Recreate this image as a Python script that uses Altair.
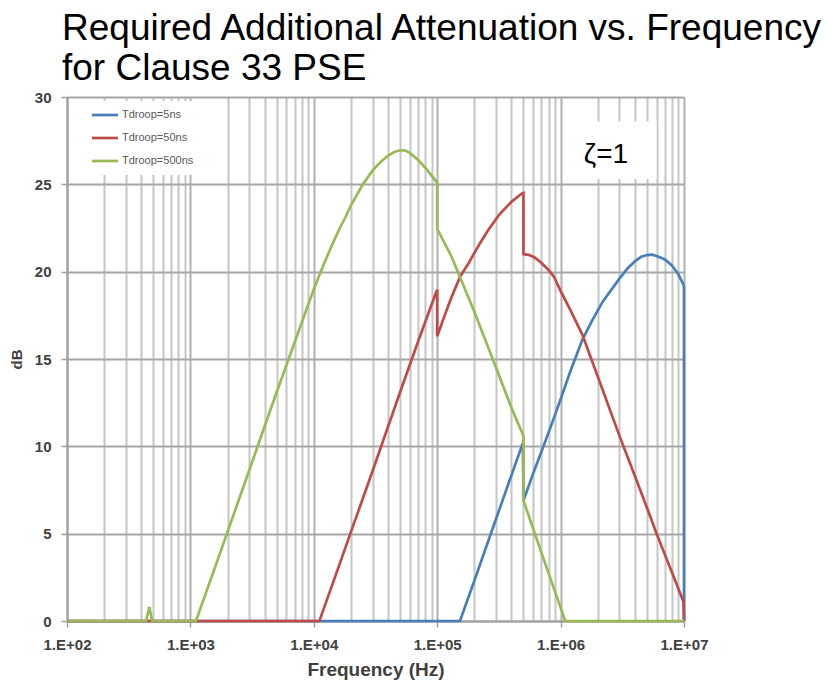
import altair as alt
import pandas as pd

# ---------------- data ----------------
series_names = ["Tdroop=5ns", "Tdroop=50ns", "Tdroop=500ns"]
series_colors = ["#4A7EBB", "#BE4B48", "#98B954"]

blue_freq = [100, 153000, 200000, 300000, 400000, 495000, 500000, 600000, 700000,
             850000, 1000000, 1200000, 1500000, 1800000, 2200000, 2600000, 3000000,
             3500000, 4000000, 4500000, 5000000, 5500000, 6000000, 7000000, 8000000,
             9000000, 9900000, 10000000, 10000000]
blue_db = [0, 0, 2.3, 5.85, 8.35, 10.2, 6.9, 8.45, 9.7,
           11.3, 12.7, 14.3, 16.1, 17.2, 18.3, 19.0, 19.6,
           20.2, 20.6, 20.85, 20.95, 20.97, 20.9, 20.7, 20.35,
           19.85, 19.25, 19.1, 0]

red_freq = [100, 11100, 15000, 20000, 30000, 50000, 70000, 99000, 100000, 100000,
            115000, 130000, 153000, 180000, 221000, 260000, 321000, 400000, 480000,
            500000, 500000, 560000, 620000, 700000, 800000, 885000, 1000000,
            1200000, 1500000, 2000000, 3000000, 4000000, 5000000, 6000000,
            7000000, 8500000, 9900000, 10000000]
red_db = [0, 0, 2.6, 5.1, 8.6, 13.1, 16.0, 18.9, 18.9, 16.3,
          17.5, 18.5, 19.7, 20.5, 21.6, 22.4, 23.3, 24.0, 24.45,
          24.5, 21.0, 20.95, 20.8, 20.5, 20.1, 19.7, 18.9,
          17.8, 16.4, 14.0, 10.6, 8.3, 6.5, 5.0,
          3.8, 2.3, 1.1, 0]

green_freq = [100, 437, 465, 490, 1110, 2000, 5000, 10000, 12000, 14000, 16000,
              18000, 20000, 25000, 30000, 35000, 40000, 45000, 50000, 55000, 60000,
              70000, 80000, 90000, 100000, 100000, 130000, 200000, 300000, 400000,
              500000, 500000, 700000, 1090000, 10000000]
green_db = [0, 0, 0.8, 0, 0, 5.1, 13.1, 19.0, 20.4, 21.5, 22.4,
            23.1, 23.8, 25.0, 25.8, 26.3, 26.65, 26.85, 26.95, 26.93, 26.8,
            26.4, 25.95, 25.5, 25.1, 22.45, 20.9, 17.7, 14.5, 12.2,
            10.6, 6.9, 3.9, 0, 0]

decades = [100, 1000, 10000, 100000, 1000000, 10000000]
decade_labels = ["1.E+02", "1.E+03", "1.E+04", "1.E+05", "1.E+06", "1.E+07"]
minor_mult = [2, 3, 4, 5, 6, 7, 8, 9]
y_ticks = [0, 5, 10, 15, 20, 25, 30]

zeta_text = ["ζ=1"]
zeta_x = [2330000]
zeta_y = [26.2]
box_x1 = [1090000]
box_x2 = [6000000]
box_y1 = [25.3]
box_y2 = [28.6]

# ---------------- tables ----------------
rows = []
for name, fr, db in zip(series_names, [blue_freq, red_freq, green_freq],
                        [blue_db, red_db, green_db]):
    for i, (f, d) in enumerate(zip(fr, db)):
        rows.append({"series": name, "f": f, "dB": d, "idx": i})
df = pd.DataFrame(rows)

note_df = pd.DataFrame({"t": zeta_text, "tx": zeta_x, "ty": zeta_y})
box_df = pd.DataFrame({"x1": box_x1, "x2": box_x2, "y1": box_y1, "y2": box_y2})

x_values = sorted(decades + [m * d for d in decades[:-1] for m in minor_mult])
is_decade = f"indexof({decades}, datum.value) >= 0"

x_axis = alt.Axis(
    title="Frequency (Hz)",
    values=x_values,
    labelExpr=f"{is_decade} ? {decade_labels}[indexof({decades}, datum.value)] : ''",
    labelOverlap=False,
    labelFlush=False,
    labelFont="Liberation Sans",
    labelFontSize=15,
    labelFontWeight="bold",
    labelColor="#404040",
    labelPadding=10,
    tickSize=6,
    tickColor="#a0a0a0",
    tickWidth=1.5,
    tickOpacity={"condition": {"test": is_decade, "value": 1}, "value": 0},
    domainColor="#a0a0a0",
    domainWidth=2,
    grid=True,
    gridColor={"condition": {"test": is_decade, "value": "#b0b0b0"}, "value": "#c6c6c6"},
    gridWidth=2,
    titleFont="Liberation Sans",
    titleFontSize=19,
    titleFontWeight="bold",
    titleColor="#404040",
    titlePadding=8,
)

y_axis = alt.Axis(
    title="dB",
    values=y_ticks,
    labelFlush=False,
    labelFont="Liberation Sans",
    labelFontSize=15,
    labelFontWeight="bold",
    labelColor="#404040",
    labelPadding=10,
    tickSize=6,
    tickColor="#a0a0a0",
    tickWidth=1.5,
    domainColor="#a0a0a0",
    domainWidth=2,
    grid=True,
    gridColor="#a6a6a6",
    gridWidth=2,
    titleFont="Liberation Sans",
    titleFontSize=15,
    titleFontWeight="bold",
    titleColor="#404040",
    titlePadding=10,
)

x_scale = alt.Scale(type="log", domain=[100, 10000000], nice=False)
y_scale = alt.Scale(domain=[0, 30], nice=False)

legend = alt.Legend(
    title=None,
    orient="none",
    legendX=24,
    legendY=4,
    fillColor="white",
    padding=8,
    symbolType="M-3,0H3",
    symbolSize=76,
    symbolStrokeWidth=2.7,
    labelFont="Liberation Sans",
    labelFontSize=11,
    labelColor="#595959",
    labelOffset=11,
    rowPadding=11,
)

color = alt.Color("series:N", scale=alt.Scale(domain=series_names, range=series_colors),
                  legend=legend)

layers = []
for name in series_names:
    layers.append(
        alt.Chart(df).transform_filter(alt.datum.series == name).mark_line(
            strokeWidth=2.7
        ).encode(
            x=alt.X("f:Q", scale=x_scale, axis=x_axis),
            y=alt.Y("dB:Q", scale=y_scale, axis=y_axis),
            color=color,
            order=alt.Order("idx:Q"),
        )
    )

box = alt.Chart(box_df).mark_rect(color="white").encode(
    x=alt.X("x1:Q", scale=x_scale, axis=x_axis),
    x2="x2:Q",
    y=alt.Y("y1:Q", scale=y_scale, axis=y_axis),
    y2="y2:Q",
)

note = alt.Chart(note_df).mark_text(
    font="Liberation Sans", fontSize=28, color="black", align="center",
    baseline="alphabetic"
).encode(
    x=alt.X("tx:Q", scale=x_scale, axis=x_axis),
    y=alt.Y("ty:Q", scale=y_scale, axis=y_axis),
    text="t:N",
)

chart = alt.layer(*layers, box, note).properties(
    width=617,
    height=524,
    autosize=alt.AutoSizeParams(type="none"),
    padding={"left": 67, "top": 97, "right": 145, "bottom": 62},
    title=alt.TitleParams(
        text=["Required Additional Attenuation vs. Frequency", "for Clause 33 PSE"],
        anchor="start",
        frame="group",
        font="Liberation Sans",
        fontSize=37,
        fontWeight="normal",
        color="black",
        lineHeight=40,
        baseline="bottom",
        offset=2,
        dx=-5,
        dy=37,
    ),
).configure_view(strokeWidth=0).configure(background="white")

chart.save("out.html", embed_options={"renderer": "svg", "actions": False})
